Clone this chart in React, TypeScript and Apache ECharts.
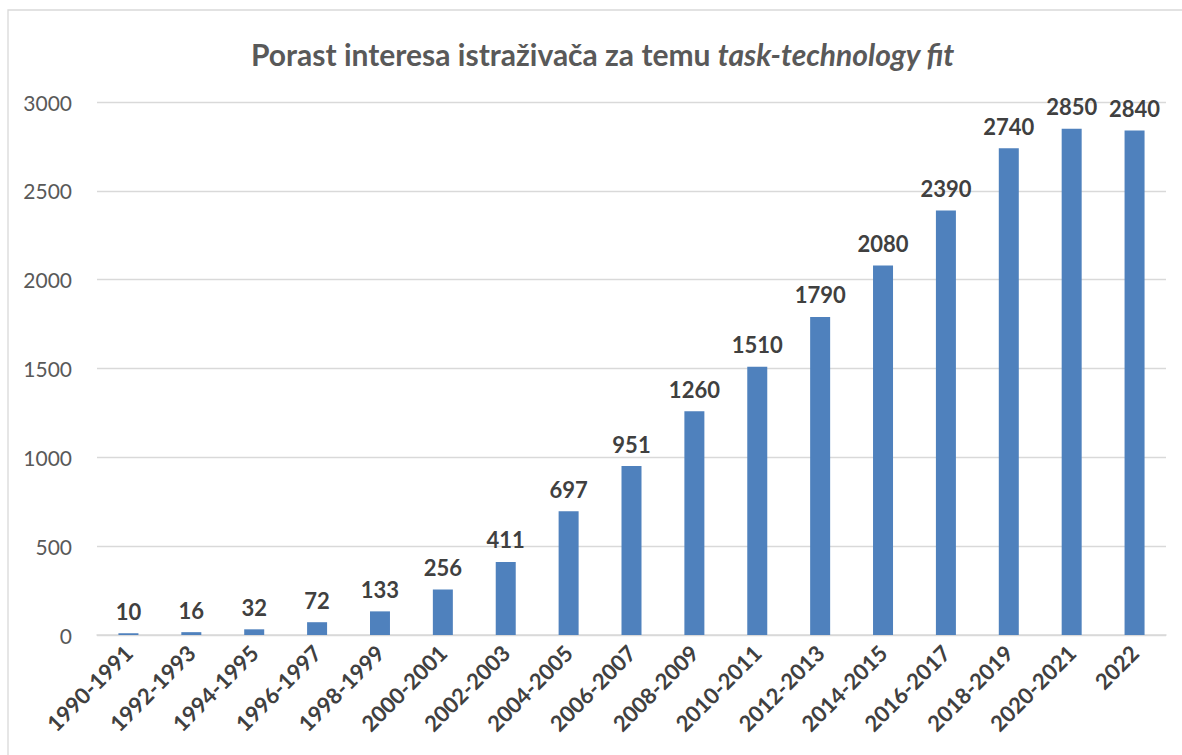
import React, { useEffect, useRef } from "react";
import * as echarts from "echarts";

const titleMain = "Porast interesa istraživača za temu ";
const titleItalic = "task-technology fit";

const categories = [
  "1990-1991", "1992-1993", "1994-1995", "1996-1997", "1998-1999",
  "2000-2001", "2002-2003", "2004-2005", "2006-2007", "2008-2009",
  "2010-2011", "2012-2013", "2014-2015", "2016-2017", "2018-2019",
  "2020-2021", "2022",
];

const values = [10, 16, 32, 72, 133, 256, 411, 697, 951, 1260, 1510, 1790, 2080, 2390, 2740, 2850, 2840];

const yMin = 0;
const yMax = 3000;
const yInterval = 500;

const FONT = "Lato, 'Open Sans', sans-serif";

export default function App() {
  const ref = useRef<HTMLDivElement>(null);

  useEffect(() => {
    document.body.style.margin = "0";
    if (!ref.current) return;
    const chart = echarts.init(ref.current, undefined, { renderer: "svg" });
    chart.setOption({
      animation: false,
      backgroundColor: "#ffffff",
      graphic: [
        {
          type: "rect",
          shape: { x: 8, y: 10, width: 1300, height: 900 },
          style: { fill: "none", stroke: "#d9d9d9", lineWidth: 1.3 },
          silent: true,
          z: -10,
        },
      ],
      title: {
        text: titleMain + "{i|" + titleItalic + "}",
        left: 246,
        top: 34,
        textStyle: {
          fontFamily: FONT,
          fontSize: 30,
          fontWeight: "bold",
          color: "#595959",
          rich: {
            i: {
              fontFamily: FONT,
              fontSize: 30,
              fontWeight: "bold",
              fontStyle: "italic",
              color: "#595959",
            },
          },
        },
      },
      grid: { left: 97, right: 16, top: 102, bottom: 120, containLabel: false },
      xAxis: {
        type: "category",
        data: categories,
        axisLine: { show: true, lineStyle: { color: "#d9d9d9", width: 1.5 } },
        axisTick: { show: false },
        axisLabel: {
          rotate: 45,
          interval: 0,
          margin: 14,
          fontFamily: FONT,
          fontSize: 22,
          fontWeight: "bold",
          color: "#404040",
        },
      },
      yAxis: {
        type: "value",
        min: yMin,
        max: yMax,
        interval: yInterval,
        axisLine: { show: false },
        axisTick: { show: false },
        splitLine: { lineStyle: { color: "#d9d9d9", width: 1.3 } },
        axisLabel: {
          margin: 25,
          fontFamily: FONT,
          fontSize: 21,
          color: "#595959",
          formatter: (v: number) => String(v),
        },
      },
      series: [
        {
          type: "bar",
          data: values,
          barWidth: 20,
          itemStyle: { color: "#4f81bd" },
          label: {
            show: true,
            position: "top",
            distance: 11,
            fontFamily: FONT,
            fontSize: 22,
            fontWeight: "bold",
            color: "#404040",
          },
        },
      ],
    });
    return () => chart.dispose();
  }, []);

  return <div ref={ref} style={{ width: 1182, height: 755 }} />;
}
